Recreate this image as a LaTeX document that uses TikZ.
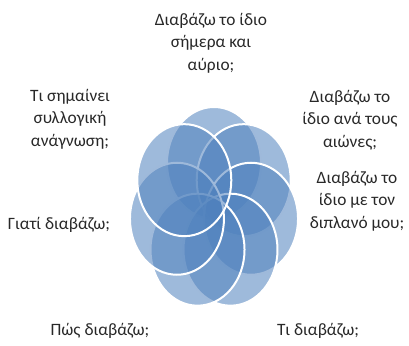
\documentclass[tikz,border=0pt]{standalone}
\usepackage{fontspec}
\setmainfont{Carlito}
\usetikzlibrary{positioning}
\definecolor{petalblue}{RGB}{79,129,189}
\definecolor{qtext}{RGB}{40,40,40}

\begin{document}
\begin{tikzpicture}[x=0.75pt, y=-0.75pt, every node/.style={font=\fontsize{13}{17}\selectfont, text=qtext}, question/.style={align=center}, petal/.style={fill=petalblue, fill opacity=0.55, draw=white, line width=1.5pt}]
\useasboundingbox (0,0) rectangle (409,345);
% seven petals, clockwise from the top
\foreach \k in {0,...,6} {
  \pgfmathsetmacro{\ang}{90-\k*360/7}
  \draw[petal] ({214+38*cos(\ang)},{208.6-45.6*sin(\ang)}) ellipse [x radius=35.25pt, y radius=42pt];
}
\node[question] (today) at (211,43) {Διαβάζω το ίδιο\\σήμερα και\\αύριο;};
\node[question] (ages) at (350,120) {Διαβάζω το\\ίδιο ανά τους\\αιώνες;};
\node[question] (neighbour) at (357,201) {Διαβάζω το\\ίδιο με τον\\διπλανό μου;};
\node[question] (what) at (318,331) {Τι διαβάζω;};
\node[question] (how) at (100,331) {Πώς διαβάζω;};
\node[question] (why) at (59,225) {Γιατί διαβάζω;};
\node[question] (collective) at (70,119) {Τι σημαίνει\\συλλογική\\ανάγνωση;};
\end{tikzpicture}
\end{document}
